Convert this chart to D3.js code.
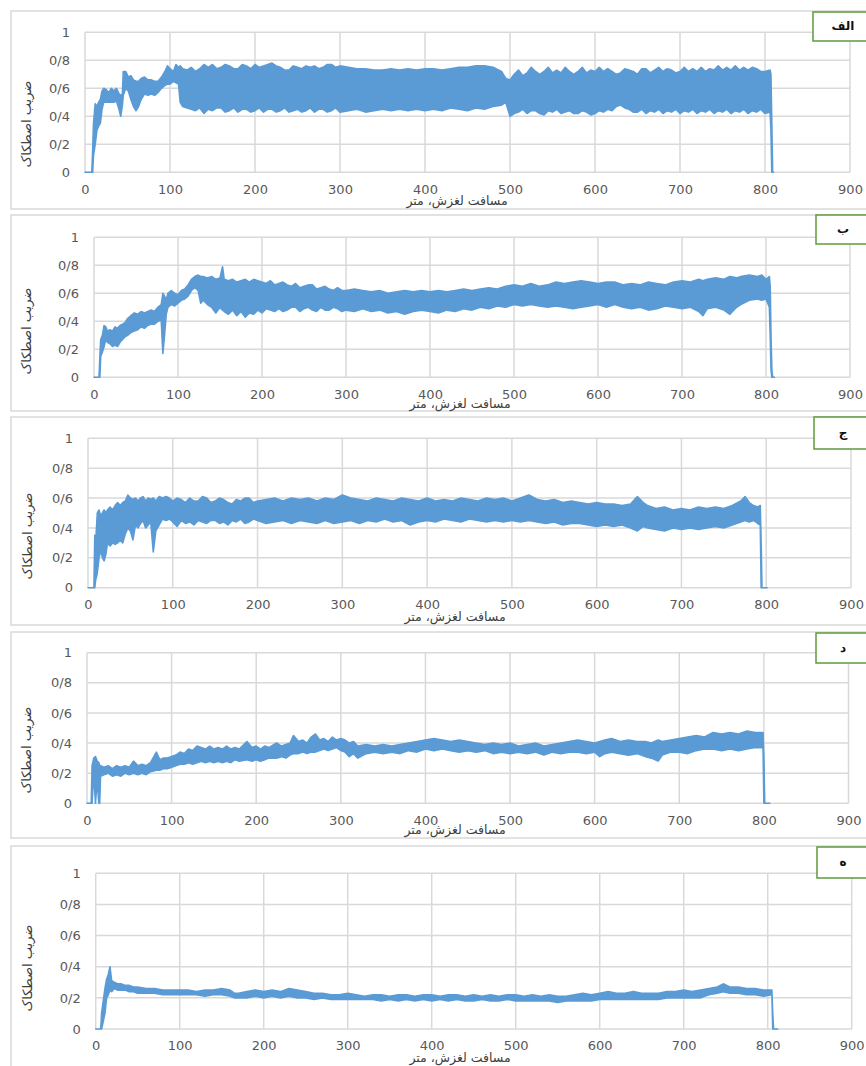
<!DOCTYPE html>
<html><head><meta charset="utf-8">
<script src="https://cdn.jsdelivr.net/npm/d3@7"></script>
<style>
html,body{margin:0;padding:0;background:#fff;}
svg{display:block;}
text{font-family:"DejaVu Sans",sans-serif;}
</style></head>
<body>
<svg id="c" width="866" height="1066"></svg>
<script>
// ---- data: [distance (m), upper envelope, lower envelope] ----
const panelLabels = ["الف","ب","ج","د","ه"];
const xTicks = [0,100,200,300,400,500,600,700,800,900];
const yTicks = [0,0.2,0.4,0.6,0.8,1];
const yTickLabels = ["0","0/2","0/4","0/6","0/8","1"];
const xTitle = "مسافت لغزش، متر";
const yTitle = "ضریب اصطکاک";

const seriesA = [[0,0,0],[8,0,0],[9,0.15,0],[10,0.35,0.12],[12,0.49,0.2],[14,0.47,0.3],[16,0.5,0.33],[18,0.52,0.35],[20,0.58,0.45],[22,0.6,0.5],[25,0.59,0.5],[28,0.57,0.5],[31,0.6,0.5],[34,0.58,0.5],[37,0.6,0.51],[40,0.56,0.45],[42,0.55,0.4],[44,0.56,0.48],[45,0.72,0.55],[48,0.72,0.6],[51,0.68,0.58],[54,0.69,0.52],[57,0.66,0.47],[60,0.65,0.44],[63,0.65,0.47],[66,0.67,0.52],[70,0.68,0.56],[74,0.66,0.55],[78,0.66,0.56],[82,0.65,0.55],[86,0.65,0.57],[90,0.68,0.6],[94,0.72,0.62],[97,0.76,0.63],[100,0.74,0.63],[104,0.72,0.65],[107,0.77,0.64],[110,0.75,0.63],[112,0.76,0.5],[115,0.74,0.47],[120,0.73,0.46],[125,0.75,0.45],[130,0.72,0.44],[135,0.74,0.46],[140,0.77,0.42],[145,0.75,0.45],[150,0.77,0.44],[155,0.74,0.46],[160,0.75,0.46],[165,0.77,0.43],[170,0.76,0.44],[175,0.74,0.46],[180,0.74,0.43],[185,0.77,0.45],[190,0.76,0.45],[195,0.74,0.43],[200,0.77,0.44],[205,0.75,0.46],[210,0.76,0.43],[215,0.77,0.45],[220,0.78,0.45],[225,0.76,0.43],[230,0.75,0.44],[235,0.73,0.46],[240,0.73,0.43],[245,0.76,0.44],[250,0.75,0.45],[255,0.74,0.43],[260,0.76,0.44],[265,0.75,0.46],[270,0.76,0.43],[275,0.74,0.45],[280,0.75,0.45],[285,0.77,0.43],[290,0.77,0.44],[295,0.75,0.46],[300,0.76,0.43],[310,0.75,0.44],[320,0.74,0.45],[330,0.74,0.43],[340,0.73,0.44],[350,0.73,0.45],[360,0.74,0.44],[370,0.73,0.45],[380,0.74,0.44],[390,0.73,0.45],[400,0.74,0.44],[410,0.74,0.45],[420,0.73,0.44],[430,0.74,0.46],[440,0.75,0.45],[450,0.75,0.44],[460,0.76,0.46],[470,0.76,0.45],[480,0.75,0.47],[490,0.72,0.48],[495,0.67,0.5],[500,0.66,0.4],[505,0.7,0.42],[510,0.73,0.43],[515,0.69,0.45],[520,0.71,0.42],[525,0.75,0.44],[530,0.72,0.44],[535,0.7,0.42],[540,0.72,0.41],[545,0.75,0.44],[550,0.71,0.43],[555,0.73,0.45],[560,0.71,0.42],[565,0.75,0.43],[570,0.72,0.44],[575,0.7,0.42],[580,0.72,0.42],[585,0.75,0.44],[590,0.71,0.43],[595,0.73,0.41],[600,0.72,0.42],[605,0.75,0.44],[610,0.72,0.43],[615,0.74,0.45],[620,0.72,0.44],[625,0.7,0.47],[630,0.71,0.48],[635,0.74,0.46],[640,0.73,0.45],[645,0.72,0.43],[650,0.7,0.43],[655,0.74,0.45],[660,0.74,0.42],[665,0.71,0.44],[670,0.73,0.43],[675,0.75,0.45],[680,0.72,0.42],[685,0.74,0.44],[690,0.73,0.43],[695,0.71,0.45],[700,0.72,0.42],[705,0.75,0.44],[710,0.72,0.43],[715,0.74,0.45],[720,0.72,0.42],[725,0.75,0.44],[730,0.72,0.43],[735,0.74,0.45],[740,0.73,0.42],[745,0.76,0.44],[750,0.73,0.43],[755,0.75,0.45],[760,0.73,0.42],[765,0.76,0.44],[770,0.73,0.43],[775,0.75,0.45],[780,0.73,0.42],[785,0.75,0.44],[790,0.74,0.43],[795,0.72,0.45],[800,0.72,0.42],[806,0.73,0.43],[807,0.7,0.3],[808,0.35,0],[809,0,0],[810,0,0]];

const seriesB = [[0,0,0],[6,0,0],[7,0.15,0],[8,0.27,0.15],[10,0.3,0.18],[12,0.37,0.22],[14,0.36,0.27],[16,0.33,0.25],[19,0.34,0.24],[22,0.33,0.22],[25,0.36,0.23],[28,0.35,0.22],[31,0.37,0.25],[34,0.38,0.27],[37,0.39,0.29],[40,0.42,0.3],[44,0.44,0.32],[48,0.46,0.33],[52,0.45,0.34],[56,0.47,0.36],[60,0.46,0.35],[64,0.47,0.37],[68,0.48,0.38],[72,0.47,0.38],[76,0.5,0.4],[80,0.52,0.41],[82,0.6,0.17],[84,0.58,0.3],[86,0.55,0.45],[88,0.6,0.5],[92,0.62,0.52],[96,0.6,0.51],[100,0.59,0.53],[104,0.62,0.55],[108,0.63,0.56],[112,0.66,0.58],[116,0.7,0.62],[120,0.72,0.64],[124,0.73,0.62],[127,0.72,0.53],[130,0.72,0.55],[135,0.71,0.52],[140,0.72,0.5],[145,0.7,0.46],[150,0.71,0.5],[153,0.79,0.48],[155,0.7,0.47],[160,0.69,0.45],[165,0.7,0.48],[170,0.68,0.44],[175,0.69,0.47],[180,0.7,0.43],[185,0.68,0.46],[190,0.7,0.45],[195,0.69,0.48],[200,0.68,0.46],[205,0.67,0.49],[210,0.69,0.48],[215,0.66,0.47],[220,0.67,0.49],[225,0.68,0.47],[230,0.66,0.48],[235,0.65,0.5],[240,0.67,0.5],[245,0.64,0.47],[250,0.65,0.49],[255,0.66,0.5],[260,0.66,0.48],[265,0.63,0.47],[270,0.64,0.5],[275,0.65,0.48],[280,0.63,0.48],[285,0.62,0.5],[290,0.64,0.49],[295,0.62,0.47],[300,0.62,0.48],[310,0.63,0.47],[320,0.62,0.49],[330,0.61,0.47],[340,0.62,0.48],[350,0.6,0.46],[360,0.61,0.47],[370,0.62,0.45],[380,0.61,0.47],[390,0.62,0.48],[400,0.61,0.47],[410,0.62,0.46],[420,0.61,0.48],[430,0.62,0.47],[440,0.63,0.49],[450,0.62,0.48],[460,0.63,0.5],[470,0.64,0.49],[480,0.63,0.51],[490,0.65,0.5],[500,0.66,0.52],[510,0.65,0.51],[520,0.67,0.52],[530,0.65,0.51],[540,0.66,0.5],[550,0.68,0.51],[560,0.67,0.5],[570,0.68,0.49],[580,0.69,0.5],[590,0.68,0.51],[600,0.67,0.52],[610,0.68,0.5],[620,0.68,0.52],[630,0.66,0.5],[640,0.67,0.49],[650,0.66,0.5],[660,0.68,0.48],[670,0.67,0.49],[680,0.66,0.51],[690,0.68,0.5],[700,0.69,0.49],[710,0.68,0.5],[720,0.7,0.47],[725,0.69,0.44],[730,0.7,0.49],[740,0.71,0.5],[750,0.7,0.48],[757,0.72,0.45],[765,0.71,0.5],[770,0.72,0.52],[780,0.73,0.55],[790,0.72,0.56],[795,0.73,0.55],[800,0.7,0.56],[804,0.72,0.5],[805,0.65,0.3],[806,0.28,0.05],[807,0.05,0],[808,0,0],[810,0,0]];

const seriesC = [[0,0,0],[7,0,0],[8,0.35,0],[9,0.3,0.05],[11,0.5,0.1],[13,0.52,0.2],[15,0.48,0.25],[17,0.5,0.2],[19,0.52,0.18],[21,0.5,0.22],[23,0.52,0.3],[26,0.54,0.28],[29,0.52,0.3],[32,0.55,0.29],[35,0.57,0.3],[38,0.55,0.32],[41,0.57,0.3],[44,0.58,0.36],[47,0.62,0.4],[50,0.6,0.38],[53,0.59,0.32],[56,0.6,0.42],[59,0.58,0.4],[62,0.6,0.43],[65,0.61,0.45],[68,0.58,0.4],[71,0.6,0.42],[74,0.59,0.44],[77,0.6,0.24],[80,0.58,0.38],[84,0.61,0.42],[88,0.6,0.46],[92,0.61,0.45],[96,0.6,0.46],[100,0.58,0.44],[105,0.6,0.41],[110,0.59,0.45],[115,0.57,0.43],[120,0.6,0.44],[125,0.58,0.42],[130,0.58,0.45],[135,0.61,0.44],[140,0.6,0.43],[145,0.57,0.45],[150,0.58,0.45],[155,0.6,0.43],[160,0.59,0.44],[165,0.57,0.42],[170,0.56,0.45],[175,0.59,0.44],[180,0.58,0.46],[185,0.6,0.43],[190,0.6,0.44],[195,0.57,0.46],[200,0.58,0.45],[210,0.59,0.43],[220,0.6,0.44],[230,0.58,0.45],[240,0.6,0.43],[250,0.59,0.45],[260,0.6,0.44],[270,0.58,0.43],[280,0.6,0.45],[290,0.59,0.43],[300,0.62,0.44],[310,0.6,0.45],[320,0.59,0.43],[330,0.58,0.45],[340,0.6,0.44],[350,0.59,0.46],[360,0.58,0.44],[370,0.6,0.45],[380,0.59,0.42],[390,0.58,0.44],[400,0.6,0.45],[410,0.58,0.44],[420,0.59,0.46],[430,0.58,0.45],[440,0.6,0.44],[450,0.59,0.46],[460,0.58,0.45],[470,0.6,0.44],[480,0.59,0.45],[490,0.6,0.44],[500,0.58,0.45],[510,0.6,0.44],[520,0.62,0.45],[530,0.59,0.44],[540,0.58,0.43],[550,0.59,0.44],[560,0.57,0.42],[570,0.58,0.43],[580,0.57,0.43],[590,0.56,0.42],[600,0.57,0.41],[610,0.56,0.42],[620,0.56,0.41],[630,0.55,0.42],[640,0.56,0.4],[648,0.61,0.38],[655,0.57,0.41],[660,0.55,0.4],[670,0.53,0.39],[680,0.54,0.38],[690,0.52,0.4],[700,0.53,0.39],[710,0.52,0.4],[720,0.54,0.39],[730,0.53,0.4],[740,0.54,0.41],[750,0.53,0.4],[760,0.55,0.42],[770,0.58,0.44],[775,0.61,0.45],[780,0.57,0.44],[785,0.55,0.45],[790,0.54,0.43],[793,0.55,0.42],[794,0.3,0],[795,0,0],[801,0,0]];

const seriesD = [[0,0,0],[5,0,0],[6,0.25,0],[8,0.3,0.2],[10,0.31,0],[12,0.28,0.15],[14,0.27,0],[15,0.25,0],[16,0.25,0.18],[20,0.24,0.19],[25,0.25,0.2],[30,0.23,0.18],[35,0.25,0.19],[40,0.24,0.18],[45,0.25,0.2],[50,0.24,0.19],[55,0.28,0.2],[60,0.25,0.19],[65,0.26,0.2],[70,0.25,0.19],[75,0.27,0.21],[82,0.34,0.22],[86,0.29,0.22],[90,0.3,0.23],[95,0.3,0.23],[100,0.31,0.24],[105,0.32,0.25],[110,0.34,0.26],[115,0.33,0.26],[120,0.36,0.27],[125,0.35,0.26],[130,0.38,0.27],[135,0.37,0.28],[140,0.36,0.27],[145,0.38,0.28],[150,0.36,0.27],[155,0.37,0.28],[160,0.36,0.27],[165,0.38,0.28],[170,0.36,0.27],[175,0.37,0.29],[180,0.36,0.28],[189,0.41,0.29],[195,0.37,0.28],[200,0.38,0.29],[205,0.36,0.28],[210,0.38,0.29],[215,0.37,0.3],[224,0.4,0.3],[230,0.38,0.31],[235,0.39,0.3],[240,0.4,0.32],[244,0.45,0.33],[250,0.41,0.33],[255,0.42,0.34],[260,0.4,0.33],[265,0.44,0.34],[270,0.46,0.34],[275,0.42,0.35],[280,0.43,0.36],[285,0.41,0.35],[290,0.44,0.36],[295,0.42,0.37],[300,0.43,0.35],[305,0.42,0.34],[310,0.4,0.31],[315,0.41,0.33],[320,0.38,0.3],[330,0.39,0.33],[340,0.38,0.34],[350,0.39,0.33],[360,0.38,0.34],[370,0.39,0.33],[380,0.4,0.35],[390,0.41,0.34],[400,0.42,0.36],[410,0.43,0.35],[420,0.42,0.36],[430,0.41,0.35],[440,0.42,0.34],[450,0.41,0.35],[460,0.4,0.34],[470,0.39,0.35],[480,0.4,0.33],[490,0.39,0.34],[500,0.4,0.33],[510,0.38,0.34],[520,0.39,0.33],[530,0.4,0.34],[540,0.38,0.32],[550,0.39,0.34],[560,0.4,0.33],[570,0.41,0.34],[580,0.42,0.34],[590,0.41,0.33],[600,0.4,0.34],[606,0.41,0.31],[612,0.42,0.33],[620,0.43,0.34],[630,0.41,0.33],[640,0.42,0.32],[650,0.41,0.33],[660,0.41,0.31],[667,0.4,0.3],[675,0.42,0.28],[680,0.41,0.32],[690,0.42,0.34],[700,0.43,0.34],[710,0.44,0.33],[720,0.45,0.35],[730,0.44,0.36],[740,0.47,0.36],[750,0.46,0.35],[760,0.47,0.36],[770,0.46,0.35],[780,0.48,0.36],[790,0.47,0.37],[799,0.47,0.37],[800,0.3,0],[801,0,0],[807,0,0]];

const seriesE = [[0,0,0],[6,0,0],[7,0.1,0],[9,0.18,0.05],[11,0.26,0.1],[13,0.32,0.2],[15,0.35,0.22],[17,0.4,0.25],[19,0.31,0.24],[22,0.3,0.26],[26,0.29,0.25],[30,0.29,0.25],[35,0.28,0.25],[40,0.28,0.24],[45,0.27,0.24],[50,0.27,0.23],[60,0.26,0.23],[70,0.26,0.23],[80,0.25,0.22],[90,0.25,0.22],[100,0.25,0.22],[110,0.25,0.22],[120,0.24,0.22],[130,0.25,0.21],[140,0.25,0.22],[150,0.26,0.22],[160,0.25,0.21],[165,0.23,0.2],[170,0.23,0.2],[180,0.24,0.2],[190,0.25,0.21],[200,0.24,0.2],[210,0.25,0.21],[220,0.24,0.2],[230,0.26,0.21],[240,0.25,0.2],[250,0.24,0.2],[260,0.23,0.19],[270,0.23,0.2],[280,0.22,0.19],[290,0.22,0.19],[300,0.23,0.19],[310,0.22,0.19],[320,0.21,0.19],[330,0.22,0.19],[340,0.22,0.18],[350,0.21,0.19],[360,0.22,0.18],[370,0.22,0.19],[380,0.21,0.18],[390,0.22,0.19],[400,0.22,0.18],[410,0.21,0.19],[420,0.22,0.18],[430,0.22,0.19],[440,0.21,0.18],[450,0.22,0.18],[460,0.21,0.19],[470,0.22,0.18],[480,0.21,0.18],[490,0.22,0.19],[500,0.22,0.18],[510,0.21,0.18],[520,0.22,0.18],[530,0.21,0.18],[540,0.22,0.18],[550,0.21,0.17],[560,0.21,0.18],[570,0.22,0.18],[580,0.23,0.18],[590,0.22,0.18],[600,0.23,0.19],[610,0.24,0.19],[620,0.23,0.19],[630,0.23,0.19],[640,0.24,0.19],[650,0.23,0.19],[660,0.23,0.19],[670,0.23,0.19],[680,0.24,0.2],[690,0.24,0.2],[700,0.25,0.2],[710,0.24,0.2],[720,0.25,0.2],[730,0.26,0.22],[740,0.27,0.23],[747,0.29,0.24],[755,0.27,0.23],[765,0.27,0.23],[775,0.26,0.22],[785,0.26,0.22],[795,0.25,0.21],[805,0.25,0.22],[806,0.1,0],[807,0,0],[812,0,0]];

const allSeries = [seriesA, seriesB, seriesC, seriesD, seriesE];

// ---- layout (pixel geometry of each panel) ----
const layout = [
  {bt:11,  bb:209,  x0:85,   x1:850,   yT:32.3,  yB:172.3, ytx:27, yty:124, xtx:457, xty:205, lx:813, ly:12,  lh:29},
  {bt:215, bb:411,  x0:94,   x1:850,   yT:237.3, yB:377.3, ytx:27, yty:331, xtx:460, xty:408, lx:816, ly:215, lh:29},
  {bt:417, bb:625,  x0:88,   x1:851,   yT:438.3, yB:587.7, ytx:28, yty:536, xtx:455, xty:621, lx:814, ly:417, lh:32},
  {bt:632, bb:838,  x0:87,   x1:848.5, yT:652.7, yB:803.3, ytx:27, yty:750, xtx:455, xty:834, lx:816, ly:633, lh:30},
  {bt:846, bb:1075, x0:95.7, x1:851.7, yT:873.3, yB:1029,  ytx:28, yty:968, xtx:460, xty:1062,lx:817, ly:847, lh:31}
];

const svg = d3.select("#c");
const blue = "#5b9bd5", grid = "#d9d9d9", txt = "#595959";

layout.forEach((L, i) => {
  const g = svg.append("g");
  g.append("rect").attr("x",11).attr("y",L.bt).attr("width",880).attr("height",L.bb-L.bt)
    .attr("fill","#fff").attr("stroke","#d9d9d9").attr("stroke-width",1.5);

  const x = d3.scaleLinear().domain([0,900]).range([L.x0, L.x1]);
  const y = d3.scaleLinear().domain([0,1]).range([L.yB, L.yT]);

  g.append("g").selectAll("line").data(yTicks).join("line")
    .attr("x1",L.x0).attr("x2",L.x1).attr("y1",d=>y(d)).attr("y2",d=>y(d))
    .attr("stroke",grid).attr("stroke-width",1.5);
  g.append("g").selectAll("line").data(xTicks).join("line")
    .attr("x1",d=>x(d)).attr("x2",d=>x(d)).attr("y1",L.yT).attr("y2",L.yB)
    .attr("stroke",grid).attr("stroke-width",1.5);

  const ya = d3.axisLeft(y).tickValues(yTicks).tickSize(0).tickPadding(15)
    .tickFormat((d,k)=>yTickLabels[k]);
  const yg = g.append("g").attr("transform",`translate(${L.x0},0)`).call(ya);
  const xa = d3.axisBottom(x).tickValues(xTicks).tickSize(0).tickPadding(12);
  const xg = g.append("g").attr("transform",`translate(0,${L.yB})`).call(xa);
  [yg,xg].forEach(a=>{
    a.select(".domain").remove();
    a.selectAll("text").attr("fill",txt).style("font-size","13px").style("font-family","DejaVu Sans, sans-serif");
  });

  const data = allSeries[i];
  const area = d3.area().x(d=>x(d[0])).y0(d=>y(d[2])).y1(d=>y(d[1]));
  g.append("path").datum(data).attr("d",area)
    .attr("fill",blue).attr("stroke",blue).attr("stroke-width",1.6).attr("stroke-linejoin","round");

  g.append("text").attr("x",L.xtx).attr("y",L.xty).attr("text-anchor","middle")
    .attr("fill","#404040").style("font-size","12.5px").attr("direction","rtl").text(xTitle);
  g.append("text").attr("transform",`translate(${L.ytx},${L.yty}) rotate(-90)`)
    .attr("text-anchor","middle").attr("dominant-baseline","middle")
    .attr("fill","#404040").style("font-size","13px").attr("direction","rtl").text(yTitle);

  g.append("rect").attr("x",L.lx).attr("y",L.ly).attr("width",80).attr("height",L.lh)
    .attr("fill","#fff").attr("stroke","#5e9a3c").attr("stroke-width",1.5);
  g.append("text").attr("x",843).attr("y",L.ly+L.lh/2).attr("text-anchor","middle")
    .attr("dominant-baseline","middle").attr("fill","#111").style("font-weight","bold")
    .style("font-size","12px").text(panelLabels[i]);
});
</script>
</body></html>
